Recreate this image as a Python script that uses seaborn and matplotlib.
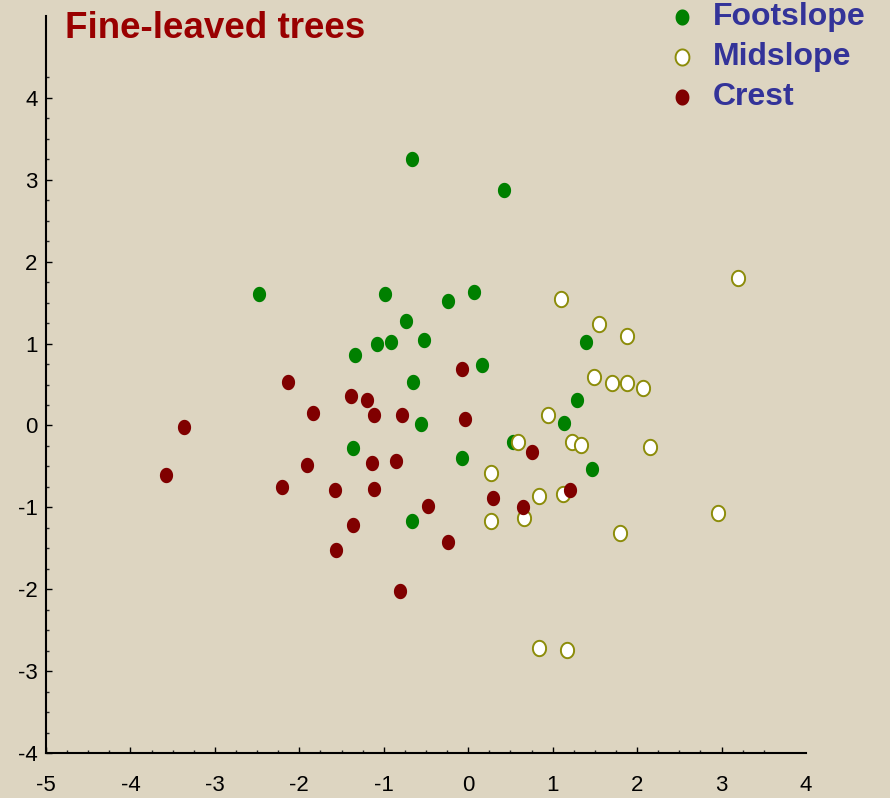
import numpy as np
import pandas as pd
import matplotlib
matplotlib.use("Agg")
import matplotlib.pyplot as plt
from matplotlib.markers import MarkerStyle
from matplotlib.ticker import FixedLocator
import seaborn as sns

# Ordination scores of fine-leaved trees, grouped by slope position
foot_x = [-0.66, 0.42, -2.48, -0.99, -0.24, 0.07, -0.74, -1.08, -0.91, -0.52, -1.34,
          0.16, -0.65, -0.56, -1.37, -0.07, -0.66, 0.53, 1.40, 1.29, 1.13, 1.46]
foot_y = [3.25, 2.88, 1.61, 1.61, 1.52, 1.63, 1.28, 1.00, 1.02, 1.04, 0.86,
          0.74, 0.53, 0.02, -0.27, -0.40, -1.17, -0.20, 1.02, 0.31, 0.03, -0.53]

mid_x = [3.19, 1.10, 1.55, 1.88, 1.49, 1.70, 1.88, 2.07, 0.95, 0.59, 1.23,
         1.34, 2.15, 0.27, 0.84, 1.12, 0.27, 0.66, 1.80, 2.96, 0.84, 1.17]
mid_y = [1.80, 1.54, 1.24, 1.09, 0.59, 0.52, 0.52, 0.46, 0.13, -0.20, -0.20,
         -0.24, -0.26, -0.58, -0.86, -0.84, -1.17, -1.13, -1.31, -1.07, -2.72, -2.74]

crest_x = [-3.37, -3.58, -2.13, -1.84, -1.39, -1.20, -1.11, -0.78, -0.07, -0.04, -2.21,
           -1.91, -1.58, -1.14, -0.85, -1.11, -0.48, -1.37, -1.56, -0.24, -0.81, 0.75,
           0.29, 0.65, 1.21]
crest_y = [-0.02, -0.60, 0.53, 0.15, 0.36, 0.31, 0.13, 0.13, 0.69, 0.08, -0.75,
           -0.48, -0.79, -0.46, -0.43, -0.78, -0.98, -1.21, -1.52, -1.42, -2.02, -0.32,
           -0.89, -1.00, -0.79]

groups = ["Footslope", "Midslope", "Crest"]
x_ticks = [-5, -4, -3, -2, -1, 0, 1, 2, 3, 4]
y_ticks = [-4, -3, -2, -1, 0, 1, 2, 3, 4]

df = pd.DataFrame({
    "x": foot_x + mid_x + crest_x,
    "y": foot_y + mid_y + crest_y,
    "position": ["Footslope"] * len(foot_x) + ["Midslope"] * len(mid_x) + ["Crest"] * len(crest_x),
})

bg = "#DDD5C1"
sns.set_style("ticks")
plt.rcParams["font.family"] = ["Liberation Sans", "DejaVu Sans"]

fig = plt.figure(figsize=(8.9, 7.98), dpi=100, facecolor=bg)
ax = fig.add_axes([46 / 890, 45 / 798, 760 / 890, 737 / 798])
ax.set_facecolor(bg)

# slightly tall elliptical marker
t = np.linspace(0, 2 * np.pi, 80)
ellipse = MarkerStyle(np.column_stack([0.43 * np.cos(t), 0.5 * np.sin(t)]))

styles = {
    "Footslope": dict(facecolor="#008000", edgecolor="#008000", linewidth=0.0),
    "Midslope": dict(facecolor="#FFFFFF", edgecolor="#8C8C0A", linewidth=1.4),
    "Crest": dict(facecolor="#800000", edgecolor="#800000", linewidth=0.0),
}
for g in groups:
    sub = df[df["position"] == g]
    st = styles[g]
    sns.scatterplot(data=sub, x="x", y="y", ax=ax, marker=ellipse, s=122,
                    color=st["facecolor"], edgecolor=st["edgecolor"],
                    linewidth=st["linewidth"], label=g, zorder=3)

ax.set_xlim(-5, 4)
ax.set_ylim(-4, 5)
ax.set_xlabel("")
ax.set_ylabel("")

for side in ("top", "right"):
    ax.spines[side].set_visible(False)
for side in ("left", "bottom"):
    ax.spines[side].set_linewidth(1.5)
    ax.spines[side].set_color("black")

ax.set_xticks(x_ticks)
ax.set_yticks(y_ticks)
ax.set_xticklabels([str(v) for v in x_ticks])
ax.set_yticklabels([str(v) for v in y_ticks])
ax.xaxis.set_minor_locator(FixedLocator([v for v in np.arange(-4.75, 3.51, 0.25) if v % 1 != 0]))
ax.yaxis.set_minor_locator(FixedLocator([v for v in np.arange(-3.75, 4.26, 0.25) if v % 1 != 0]))
ax.tick_params(axis="both", which="major", direction="in", length=4.5, width=1.0,
               labelsize=16, colors="black")
ax.tick_params(axis="both", which="minor", direction="in", length=2.0, width=1.0)
ax.tick_params(axis="x", which="major", pad=16)
ax.tick_params(axis="y", which="major", pad=6)
ax.xaxis.get_major_ticks()[-1].tick1line.set_visible(False)

ax.legend(loc="upper left", bbox_to_anchor=(669 / 890, 0.997), bbox_transform=fig.transFigure,
          frameon=False, prop={"weight": "bold", "size": 23}, labelcolor="#333399",
          handlelength=0.8, handletextpad=0.58, labelspacing=0.31, borderpad=0.0,
          borderaxespad=0.0, markerscale=1.05)

fig.text(65 / 890, 1 - 38 / 798, "Fine-leaved trees", color="#990000", fontsize=26.5,
         fontweight="bold", ha="left", va="baseline")

fig.savefig("out.png", dpi=100, facecolor=bg)
